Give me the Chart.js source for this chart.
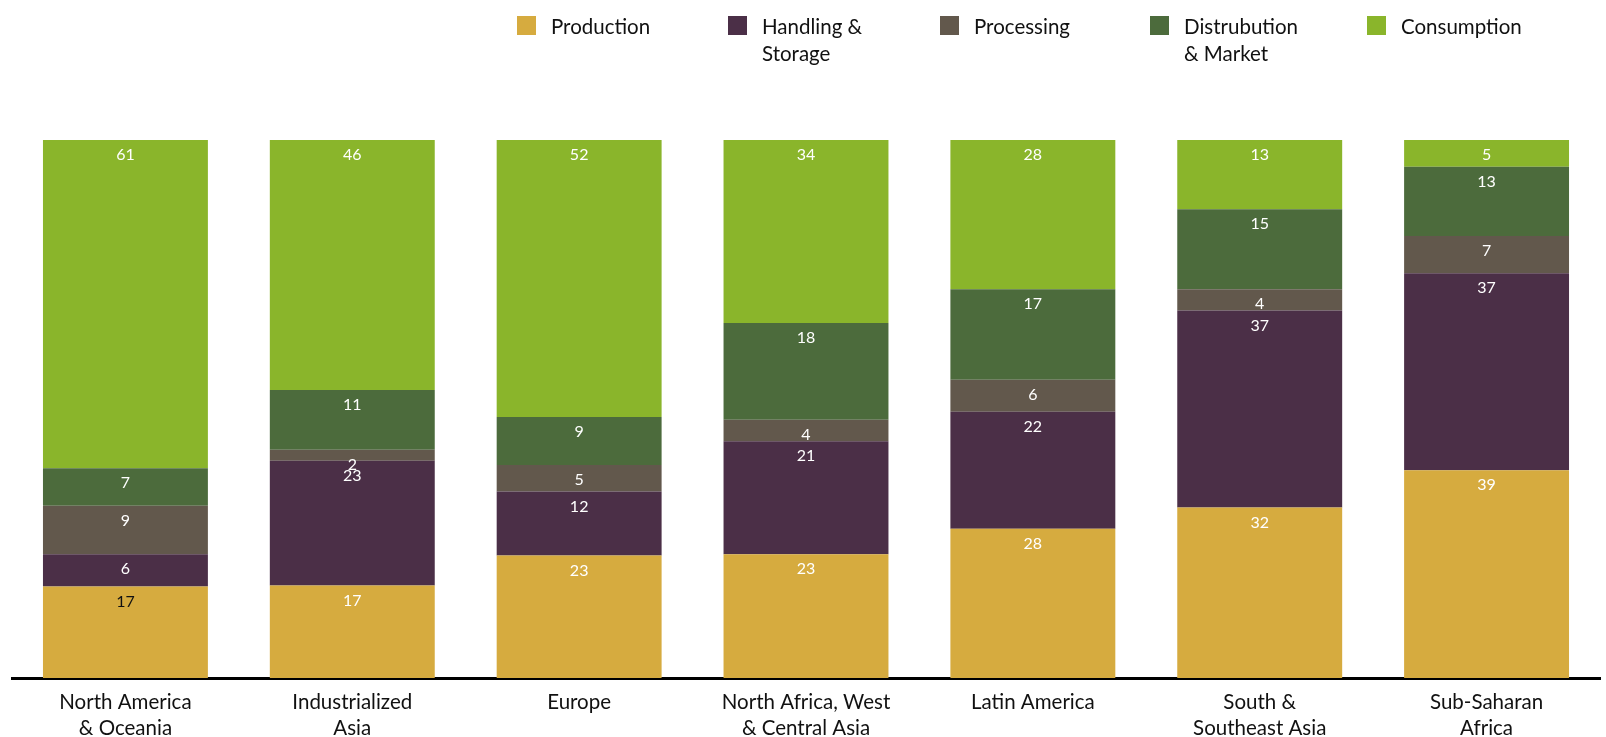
<!DOCTYPE html>
<html>
<head>
<meta charset="utf-8">
<script src="https://cdn.jsdelivr.net/npm/chart.js@4"></script>
<style>
  html, body { margin: 0; padding: 0; background: #fff; overflow: hidden; }
  #wrap { width: 1606px; height: 737px; position: relative; }
</style>
</head>
<body>
<div id="wrap"><canvas id="c" width="1606" height="737"></canvas></div>
<script>
const categories = [
  ["North America", "& Oceania"],
  ["Industrialized", "Asia"],
  ["Europe"],
  ["North Africa, West", "& Central Asia"],
  ["Latin America"],
  ["South &", "Southeast Asia"],
  ["Sub-Saharan", "Africa"]
];
const seriesNames = [["Production"], ["Handling &", "Storage"], ["Processing"], ["Distrubution", "& Market"], ["Consumption"]];
const production   = [17, 17, 23, 23, 28, 32, 39];
const handling     = [6, 23, 12, 21, 22, 37, 37];
const processing   = [9, 2, 5, 4, 6, 4, 7];
const distribution = [7, 11, 9, 18, 17, 15, 13];
const consumption  = [61, 46, 52, 34, 28, 13, 5];
const colors = ["#D6AB3F", "#4B2F47", "#62584C", "#4C6B3C", "#8AB52B"];

const raw = [production, handling, processing, distribution, consumption];
const totals = categories.map((_, i) => raw.reduce((s, arr) => s + arr[i], 0));
const FONT = "Lato, 'Open Sans', sans-serif";

const datasets = raw.map((arr, k) => ({
  label: seriesNames[k].join(" "),
  data: arr.map((v, i) => v / totals[i] * 100),
  rawValues: arr,
  backgroundColor: colors[k],
  borderWidth: 0,
  barPercentage: 0.727,
  categoryPercentage: 1.0
}));

const labelPlugin = {
  id: 'segLabels',
  afterDatasetsDraw(chart) {
    const ctx = chart.ctx;
    ctx.save();
    ctx.font = "16px " + FONT;
    ctx.textAlign = "center";
    ctx.textBaseline = "middle";
    chart.data.datasets.forEach((ds, k) => {
      const meta = chart.getDatasetMeta(k);
      meta.data.forEach((bar, i) => {
        const dark = (k === 0 && i === 0);
        ctx.fillStyle = dark ? "#111" : "#fff";
        ctx.fillText(String(ds.rawValues[i]), bar.x, bar.y + 15);
      });
    });
    ctx.restore();
  }
};

const legendPlugin = {
  id: 'customLegend',
  afterDraw(chart) {
    const ctx = chart.ctx;
    ctx.save();
    const xs = [517, 728, 940, 1150, 1367];
    ctx.font = "20.5px " + FONT;
    ctx.textBaseline = "middle";
    ctx.textAlign = "left";
    seriesNames.forEach((lines, k) => {
      ctx.fillStyle = colors[k];
      ctx.fillRect(xs[k], 16, 19, 19);
      ctx.fillStyle = "#111";
      lines.forEach((t, j) => ctx.fillText(t, xs[k] + 34, 27 + j * 27.5));
    });
    ctx.restore();
  }
};

new Chart(document.getElementById('c'), {
  type: 'bar',
  data: { labels: categories, datasets },
  options: {
    responsive: false,
    animation: false,
    devicePixelRatio: 1,
    layout: { padding: { left: 12, right: 6, top: 140, bottom: 0 } },
    plugins: { legend: { display: false }, tooltip: { enabled: false } },
    scales: {
      x: {
        stacked: true,
        grid: { display: false, drawTicks: false },
        border: { display: true, color: "#000", width: 3 },
        ticks: { color: "#111", font: { family: FONT, size: 20.5, lineHeight: 1.25 }, padding: 12, maxRotation: 0, autoSkip: false },
        afterFit(scale) { scale.height = 59; }
      },
      y: { stacked: true, display: false, min: 0, max: 100 }
    }
  },
  plugins: [labelPlugin, legendPlugin]
});
</script>
</body>
</html>
